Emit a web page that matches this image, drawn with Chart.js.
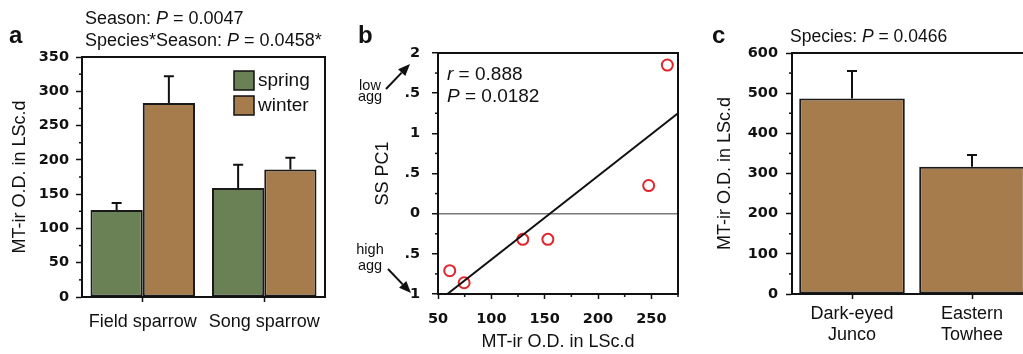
<!DOCTYPE html>
<html>
<head>
<meta charset="utf-8">
<script src="https://cdn.jsdelivr.net/npm/chart.js@4.4.1/dist/chart.umd.min.js"></script>
<style>
  html, body { margin: 0; padding: 0; background: #fff; overflow: hidden; width: 1023px; height: 354px; }
  .panel { position: absolute; top: 0; }
</style>
</head>
<body>
<canvas id="chartA" class="panel" width="340" height="354" style="left:0px"></canvas>
<canvas id="chartB" class="panel" width="360" height="354" style="left:340px"></canvas>
<canvas id="chartC" class="panel" width="345" height="354" style="left:700px"></canvas>
<script>
// panel a - field / song sparrow, spring vs winter
const speciesA = ['Field sparrow', 'Song sparrow'];
const springVals = [127, 159];
const springErr = [10, 34];
const winterVals = [283, 186];
const winterErr = [39, 17];
const yTicksA = [0, 50, 100, 150, 200, 250, 300, 350];

// panel b - MT-ir O.D. vs SS PC1
const odB = [265, 247.5, 153, 129.5, 61, 74.5];
const pc1B = [1.85, 0.35, -0.32, -0.32, -0.71, -0.86];
const fitLineX = [58.8, 275];
const fitLineY = [-1, 1.25];
const xTicksB = [50, 100, 150, 200, 250];
const yTickValsB = [2, 1.5, 1, 0.5, 0, -0.5, -1];
const yTickLabelsB = ['2', '.5', '1', '.5', '0', '.5', '1'];

// panel c - junco vs towhee
const speciesC = [['Dark-eyed', 'Junco'], ['Eastern', 'Towhee']];
const odC = [487, 317];
const odErrC = [68, 29];
const yTicksC = [0, 100, 200, 300, 400, 500, 600];

const GREEN = '#6a8156';
const BROWN = '#a77c4d';
const RED = '#e0262b';
const INK = '#111';
const SANS = '"Liberation Sans", Arial, sans-serif';
const TICKFONT = { family: '"DejaVu Sans", sans-serif', size: 14.5, weight: 'bold' };

// draw a line of text made of several font runs (for the italic P)
function drawRuns(ctx, x, y, runs) {
  ctx.textBaseline = 'alphabetic';
  ctx.textAlign = 'left';
  runs.forEach(r => {
    ctx.font = r[1];
    ctx.fillText(r[0], x, y);
    x += ctx.measureText(r[0]).width;
  });
}

function drawArrow(ctx, x1, y1, x2, y2) {
  const a = Math.atan2(y2 - y1, x2 - x1);
  const len = 12, hw = 5;
  const bx = x2 - len * Math.cos(a), by = y2 - len * Math.sin(a);
  ctx.beginPath();
  ctx.moveTo(x1, y1);
  ctx.lineTo(bx, by);
  ctx.stroke();
  ctx.beginPath();
  ctx.moveTo(x2, y2);
  ctx.lineTo(bx + hw * Math.sin(a), by - hw * Math.cos(a));
  ctx.lineTo(bx - hw * Math.sin(a), by + hw * Math.cos(a));
  ctx.closePath();
  ctx.fill();
}

const errorBars = {
  id: 'errorBars',
  afterDatasetsDraw(chart) {
    const ctx = chart.ctx;
    const y = chart.scales.y;
    chart.data.datasets.forEach((ds, i) => {
      if (!ds.errors) return;
      chart.getDatasetMeta(i).data.forEach((bar, j) => {
        const top = y.getPixelForValue(ds.data[j] + ds.errors[j]);
        ctx.save();
        ctx.strokeStyle = INK;
        ctx.lineWidth = 2;
        ctx.beginPath();
        ctx.moveTo(bar.x, bar.y);
        ctx.lineTo(bar.x, top);
        ctx.moveTo(bar.x - 5, top);
        ctx.lineTo(bar.x + 5, top);
        ctx.stroke();
        ctx.restore();
      });
    });
  }
};

// frame, minor ticks and the loose text of each panel
const decor = {
  id: 'decor',
  afterDraw(chart, args, opts) {
    const ctx = chart.ctx;
    const area = chart.chartArea;
    ctx.save();
    ctx.strokeStyle = INK;
    ctx.fillStyle = INK;

    // minor ticks
    ctx.lineWidth = 1.5;
    ['x', 'y'].forEach(k => {
      const step = opts.minor && opts.minor[k];
      if (!step) return;
      const s = chart.scales[k];
      const majors = s.ticks.map(t => t.value);
      for (let v = s.min + step; v <= s.max + 1e-9; v += step) {
        if (majors.some(m => Math.abs(m - v) < 1e-6)) continue;
        const p = s.getPixelForValue(v);
        ctx.beginPath();
        if (k === 'y') { ctx.moveTo(area.left - 3, p); ctx.lineTo(area.left, p); }
        else { ctx.moveTo(p, area.bottom); ctx.lineTo(p, area.bottom + 3); }
        ctx.stroke();
      }
    });

    // box
    ctx.lineWidth = 2;
    ctx.strokeRect(area.left, area.top, area.right - area.left, area.bottom - area.top);

    (opts.texts || []).forEach(t => drawRuns(ctx, t.x, t.y, t.runs));

    (opts.labels || []).forEach(t => {
      ctx.font = t.font;
      ctx.textAlign = 'center';
      ctx.textBaseline = 'alphabetic';
      ctx.fillText(t.text, t.x, t.y);
    });

    ctx.lineWidth = 2;
    (opts.arrows || []).forEach(a => drawArrow(ctx, a[0], a[1], a[2], a[3]));

    // legend boxes (panel a)
    if (opts.legend) {
      chart.data.datasets.forEach((ds, i) => {
        const lx = opts.legend.x, ly = opts.legend.y + i * 25;
        ctx.fillStyle = ds.backgroundColor;
        ctx.fillRect(lx, ly, 20, 19);
        ctx.lineWidth = 1.5;
        ctx.strokeRect(lx, ly, 20, 19);
        ctx.fillStyle = INK;
        ctx.font = '19px ' + SANS;
        ctx.textAlign = 'left';
        ctx.textBaseline = 'middle';
        ctx.fillText(ds.label, lx + 24, ly + 10);
      });
    }
    ctx.restore();
  }
};

function f(size, style) { return (style ? style + ' ' : '') + size + 'px ' + SANS; }

function yAxis(ticksList, width, titleText, titlePad, labelPad, extra) {
  return Object.assign({
    afterBuildTicks: s => { s.ticks = ticksList.map(v => ({ value: v })); },
    grid: { drawOnChartArea: false, tickLength: 6, tickWidth: 1.5, tickColor: INK },
    border: { color: INK, width: 2 },
    ticks: { color: INK, font: TICKFONT, padding: labelPad },
    title: { display: true, text: titleText, color: INK, font: { family: SANS, size: 18 }, padding: { top: titlePad } },
    afterFit: s => { s.width = width; }
  }, extra);
}

// ---- panel a ----
new Chart(document.getElementById('chartA'), {
  type: 'bar',
  data: {
    labels: speciesA,
    datasets: [
      { label: 'spring', data: springVals, errors: springErr, backgroundColor: GREEN, borderColor: '#1a1a1a', borderWidth: 2, borderSkipped: false },
      { label: 'winter', data: winterVals, errors: winterErr, backgroundColor: BROWN, borderColor: '#1a1a1a', borderWidth: 2, borderSkipped: false }
    ]
  },
  options: {
    responsive: false,
    animation: false,
    devicePixelRatio: 1,
    layout: { padding: { top: 57, right: 15, left: 0, bottom: 0 } },
    datasets: { bar: { categoryPercentage: 0.86, barPercentage: 1 } },
    plugins: {
      legend: { display: false },
      tooltip: { enabled: false },
      decor: {
        minor: { y: 25 },
        legend: { x: 234, y: 71 },
        texts: [
          { x: 9, y: 43, runs: [['a', 'bold 24px ' + SANS]] },
          { x: 85, y: 24, runs: [['Season: ', f(18)], ['P', f(18, 'italic')], [' = 0.0047', f(18)]] },
          { x: 85, y: 46, runs: [['Species*Season: ', f(18)], ['P', f(18, 'italic')], [' = 0.0458*', f(18)]] }
        ]
      }
    },
    scales: {
      x: {
        grid: { offset: false, drawOnChartArea: false, tickLength: 5, tickWidth: 1.5, tickColor: INK },
        border: { color: INK, width: 2 },
        ticks: { color: INK, font: { family: SANS, size: 18 }, padding: 9, maxRotation: 0 },
        afterFit: s => { s.height = 57; }
      },
      y: yAxis(yTicksA, 82, 'MT-ir O.D. in LSc.d', 9, 7, { min: 0, max: 350 })
    }
  },
  plugins: [errorBars, decor]
});

// ---- panel b ----
new Chart(document.getElementById('chartB'), {
  type: 'scatter',
  data: {
    datasets: [
      {
        type: 'line',
        data: fitLineX.map((x, i) => ({ x: x, y: fitLineY[i] })),
        borderColor: INK, borderWidth: 2, pointRadius: 0, fill: false
      },
      {
        data: odB.map((x, i) => ({ x: x, y: pc1B[i] })),
        pointRadius: 5.5, borderWidth: 2, borderColor: RED, backgroundColor: 'rgba(255,255,255,0)'
      }
    ]
  },
  options: {
    responsive: false,
    animation: false,
    devicePixelRatio: 1,
    layout: { padding: { top: 53, right: 22, left: 0, bottom: 0 } },
    plugins: {
      legend: { display: false },
      tooltip: { enabled: false },
      decor: {
        minor: { x: 25, y: 0.25 },
        texts: [
          { x: 18, y: 43, runs: [['b', 'bold 24px ' + SANS]] },
          { x: 107, y: 80, runs: [['r', f(19, 'italic')], [' = 0.888', f(19)]] },
          { x: 107, y: 102, runs: [['P', f(19, 'italic')], [' = 0.0182', f(19)]] }
        ],
        labels: [
          { text: 'low', x: 30, y: 90, font: f(14.5) },
          { text: 'agg', x: 30, y: 101, font: f(14.5) },
          { text: 'high', x: 30, y: 254, font: f(14.5) },
          { text: 'agg', x: 30, y: 270, font: f(14.5) }
        ],
        arrows: [
          [46, 89, 70, 64],
          [48, 269, 71, 293]
        ]
      }
    },
    scales: {
      x: {
        type: 'linear', min: 50, max: 275,
        afterBuildTicks: s => { s.ticks = xTicksB.map(v => ({ value: v })); },
        grid: { drawOnChartArea: false, tickLength: 5, tickWidth: 1.5, tickColor: INK },
        border: { color: INK, width: 2 },
        ticks: { color: INK, font: TICKFONT, padding: 12 },
        title: { display: true, text: 'MT-ir O.D. in LSc.d', color: INK, font: { family: SANS, size: 18 }, padding: { bottom: 1 } },
        afterFit: s => { s.height = 60; }
      },
      y: yAxis(yTickValsB, 98, 'SS PC1', 32, 12, {
        type: 'linear', min: -1, max: 2,
        grid: {
          drawOnChartArea: true, tickLength: 6, tickWidth: 1.5, tickColor: INK, lineWidth: 1.5,
          color: c => (c.tick && c.tick.value === 0) ? '#7a7a7a' : 'rgba(0,0,0,0)'
        }
      })
    }
  },
  plugins: [decor]
});
// tick label text for panel b
Chart.getChart('chartB').options.scales.y.ticks.callback = v => yTickLabelsB[yTickValsB.indexOf(v)];
Chart.getChart('chartB').update();

// ---- panel c ----
new Chart(document.getElementById('chartC'), {
  type: 'bar',
  data: {
    labels: speciesC,
    datasets: [
      { label: 'MT-ir', data: odC, errors: odErrC, backgroundColor: BROWN, borderColor: '#1a1a1a', borderWidth: 2, borderSkipped: false }
    ]
  },
  options: {
    responsive: false,
    animation: false,
    devicePixelRatio: 1,
    layout: { padding: { top: 53, right: 13, left: 0, bottom: 0 } },
    datasets: { bar: { categoryPercentage: 0.88, barPercentage: 1 } },
    plugins: {
      legend: { display: false },
      tooltip: { enabled: false },
      decor: {
        minor: { y: 50 },
        texts: [
          { x: 12, y: 43, runs: [['c', 'bold 24px ' + SANS]] },
          { x: 90, y: 42, runs: [['Species: ', f(17.5)], ['P', f(17.5, 'italic')], [' = 0.0466', f(17.5)]] }
        ]
      }
    },
    scales: {
      x: {
        grid: { offset: false, drawOnChartArea: false, tickLength: 5, tickWidth: 1.5, tickColor: INK },
        border: { color: INK, width: 2 },
        ticks: { color: INK, font: { family: SANS, size: 18, lineHeight: 1.15 }, padding: 5, maxRotation: 0 },
        afterFit: s => { s.height = 60; }
      },
      y: yAxis(yTicksC, 92, 'MT-ir O.D. in LSc.d', 14, 8, { min: 0, max: 600 })
    }
  },
  plugins: [errorBars, decor]
});
</script>
</body>
</html>
